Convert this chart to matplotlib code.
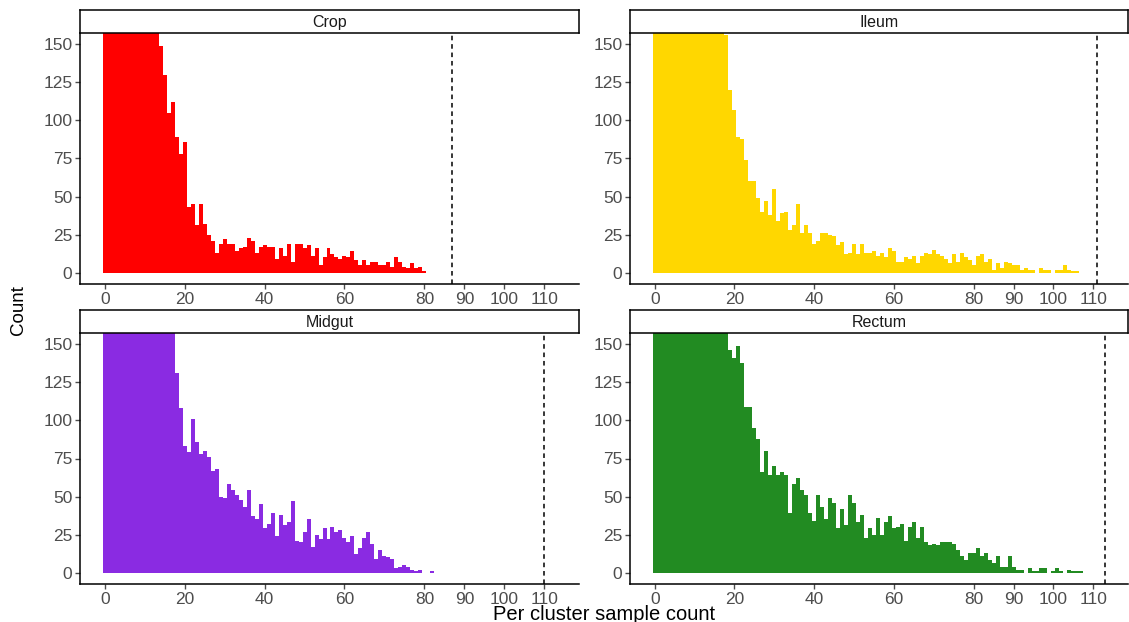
import numpy as np
import matplotlib.pyplot as plt

# counts per bin (bin width 1, centred on 0, 1, 2, ...); first bins go off the top of the panel
crop_counts = [620, 560, 500, 450, 400, 360, 320, 290, 260, 235, 210, 190, 175, 165,
               149, 130, 105, 112, 89, 78, 86, 43, 45, 31, 45, 32, 25, 21, 13, 19,
               22, 19, 19, 14, 16, 17, 23, 21, 13, 17, 18, 17, 17, 9, 16, 11, 19, 7,
               19, 19, 16, 18, 11, 16, 5, 10, 16, 12, 10, 9, 11, 10, 14, 8, 5, 8,
               5, 7, 7, 5, 5, 7, 4, 10, 7, 4, 3, 6, 3, 4, 1]
ileum_counts = [640, 590, 540, 490, 450, 410, 370, 340, 310, 285, 260, 240, 220, 205,
                192, 180, 170, 162, 156, 120, 107, 89, 88, 74, 60, 60, 49, 40, 47, 38,
                55, 34, 39, 40, 28, 31, 45, 26, 31, 26, 19, 21, 26, 26, 25, 24, 18, 20,
                12, 13, 19, 12, 19, 13, 13, 14, 11, 13, 10, 16, 14, 7, 7, 10, 9, 11,
                6, 11, 13, 12, 15, 12, 11, 9, 6, 12, 7, 13, 10, 8, 5, 11, 12, 7, 9, 2,
                6, 3, 7, 6, 5, 5, 2, 3, 2, 2, 0, 3, 2, 2, 0, 2, 2, 5, 2, 1, 1]
midgut_counts = [600, 550, 500, 460, 420, 385, 355, 325, 300, 280, 260, 240, 225, 210,
                 198, 186, 175, 165, 131, 108, 83, 79, 101, 86, 78, 80, 76, 67, 68, 50,
                 49, 58, 54, 51, 48, 43, 54, 37, 35, 45, 29, 32, 39, 24, 38, 31, 33, 47,
                 21, 20, 27, 35, 17, 25, 22, 29, 22, 30, 27, 28, 23, 20, 24, 12, 16, 23,
                 27, 19, 9, 15, 11, 10, 9, 3, 4, 5, 4, 2, 1, 2, 0, 0, 1]
rectum_counts = [700, 640, 590, 540, 495, 455, 420, 385, 355, 330, 305, 285, 265, 245,
                 228, 212, 198, 185, 172, 146, 141, 149, 138, 109, 109, 95, 88, 66, 80,
                 64, 70, 64, 66, 64, 39, 58, 62, 54, 51, 39, 34, 51, 43, 35, 49, 46, 29,
                 42, 31, 51, 46, 33, 38, 23, 29, 25, 36, 25, 33, 37, 29, 30, 32, 21, 30,
                 33, 23, 30, 20, 18, 19, 18, 20, 20, 20, 19, 15, 11, 8, 13, 13, 16, 11,
                 13, 8, 6, 11, 4, 4, 11, 4, 2, 2, 0, 3, 1, 1, 3, 3, 0, 1, 3, 1, 0, 2, 1,
                 1, 1]

tissues = ['Crop', 'Ileum', 'Midgut', 'Rectum']
all_counts = [crop_counts, ileum_counts, midgut_counts, rectum_counts]
cutoffs = [87, 111, 110, 113]
colors = ['#FF0000', '#FFD700', '#8A2BE2', '#228B22']

x_ticks = [0, 20, 40, 60, 80, 90, 100, 110]
y_ticks = [0, 25, 50, 75, 100, 125, 150]

W, H = 1129, 622
fig = plt.figure(figsize=(W / 100, H / 100), dpi=100)
plt.rcParams['font.family'] = ['Liberation Sans', 'DejaVu Sans']

# panel boxes in pixels: left, top, right, bottom
boxes = [(80, 33, 579, 284), (630, 33, 1128, 284),
         (80, 333, 579, 584), (630, 333, 1128, 584)]
strip_h = 23
tick_col = '#4D4D4D'

for name, counts, cut, col, (l, t, r, b) in zip(tissues, all_counts, cutoffs, colors, boxes):
    ax = fig.add_axes([l / W, 1 - b / H, (r - l) / W, (b - t) / H])
    centers = np.arange(len(counts))
    ax.bar(centers, counts, width=1.0, color=col, linewidth=0)
    ax.axvline(cut, color='black', linestyle=(0, (3, 2.5)), linewidth=1.1)
    ax.set_xlim(-6.2, 118.7)
    ax.set_ylim(-7.5, 157.5)
    ax.set_xticks(x_ticks)
    ax.set_yticks(y_ticks)
    for s in ['top', 'right']:
        ax.spines[s].set_visible(False)
    for s in ['left', 'bottom']:
        ax.spines[s].set_linewidth(1.1)
    ax.tick_params(colors=tick_col, labelcolor=tick_col, labelsize=12.5,
                   length=3.5, width=1, pad=2)
    ax.tick_params(axis='x', pad=2)

    # facet strip
    sax = fig.add_axes([l / W, 1 - t / H, (r - l) / W, strip_h / H])
    sax.set_xticks([])
    sax.set_yticks([])
    for s in sax.spines.values():
        s.set_linewidth(1.1)
    sax.text(0.5, 0.45, name, ha='center', va='center', fontsize=11.5,
             color='#1A1A1A', transform=sax.transAxes)

fig.text(604 / W, 1 - 614 / H, 'Per cluster sample count', ha='center', va='center',
         fontsize=14.5)
fig.text(19 / W, 1 - 310 / H, 'Count', ha='center', va='center', rotation=90,
         fontsize=13.5)

fig.savefig('out.png', dpi=100)
